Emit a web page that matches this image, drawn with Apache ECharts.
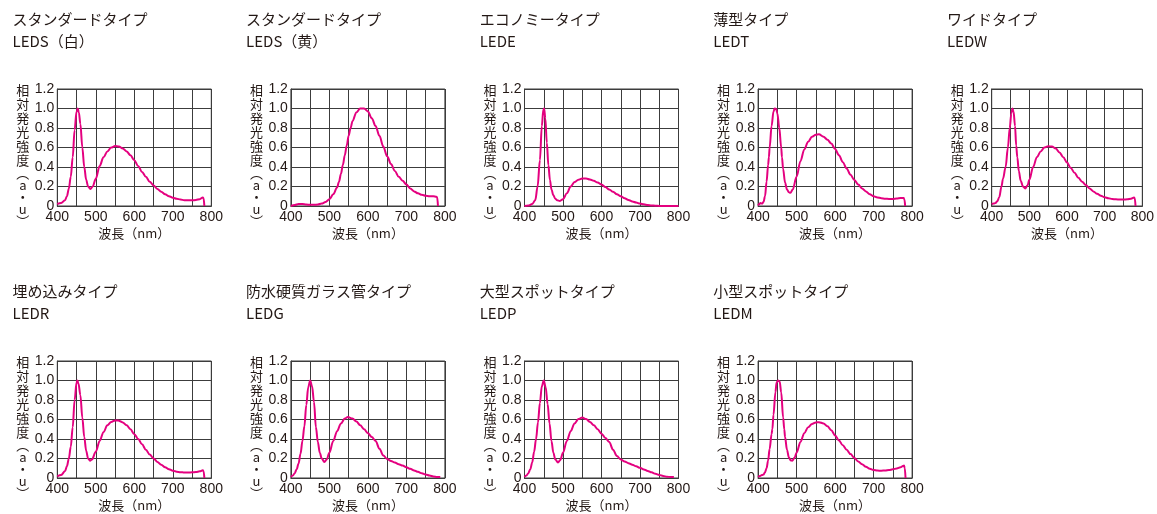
<!DOCTYPE html>
<html>
<head>
<meta charset="utf-8">
<script src="https://cdn.jsdelivr.net/npm/echarts@6/dist/echarts.min.js"></script>
<style>
  html, body { margin: 0; padding: 0; background: #ffffff; }
  #chart { width: 1157px; height: 514px; }
</style>
</head>
<body>
<div id="chart"></div>
<script>
// Relative spectral intensity (a.u.) versus wavelength (nm) for each LED type.
const ledsWhite = [[400,0.02],[410,0.03],[420,0.06],[425,0.1],[430,0.18],[435,0.3],[440,0.5],[445,0.78],[450,0.97],[453,1.0],[456,0.96],[460,0.84],[465,0.6],[470,0.4],[475,0.27],[480,0.2],[486,0.175],[492,0.2],[500,0.28],[510,0.41],[520,0.5],[530,0.56],[540,0.6],[550,0.615],[560,0.61],[570,0.59],[580,0.56],[590,0.52],[600,0.47],[610,0.41],[620,0.35],[630,0.3],[640,0.25],[650,0.21],[660,0.175],[670,0.145],[680,0.12],[690,0.1],[700,0.085],[710,0.075],[720,0.066],[730,0.06],[740,0.058],[750,0.058],[760,0.062],[770,0.07],[778,0.088],[780,0.08],[782,0]];
const ledsYellow = [[400,0],[410,0.01],[420,0.02],[430,0.02],[440,0.015],[450,0.012],[460,0.012],[470,0.015],[480,0.025],[490,0.04],[500,0.07],[510,0.12],[520,0.19],[525,0.25],[530,0.33],[535,0.42],[540,0.52],[545,0.62],[550,0.72],[555,0.8],[560,0.87],[570,0.96],[580,1.0],[590,1.0],[600,0.97],[610,0.9],[620,0.82],[630,0.72],[640,0.61],[650,0.51],[660,0.43],[670,0.36],[680,0.3],[690,0.26],[700,0.22],[710,0.18],[720,0.15],[730,0.13],[740,0.115],[750,0.105],[760,0.1],[770,0.1],[778,0.095],[780,0.09],[782,0]];
const lede = [[400,0],[410,0.005],[420,0.02],[428,0.06],[434,0.2],[440,0.47],[445,0.82],[449,0.99],[451,1.0],[454,0.9],[458,0.65],[462,0.42],[466,0.27],[470,0.17],[475,0.11],[480,0.075],[485,0.058],[492,0.052],[500,0.07],[510,0.13],[520,0.2],[530,0.245],[540,0.27],[550,0.283],[560,0.282],[570,0.272],[580,0.258],[590,0.24],[600,0.22],[610,0.195],[620,0.17],[630,0.145],[640,0.12],[650,0.1],[660,0.08],[670,0.062],[680,0.047],[690,0.035],[700,0.025],[710,0.017],[720,0.01],[730,0.006],[740,0.003],[750,0.001],[760,0],[800,0]];
const ledt = [[400,0.005],[403,0.02],[406,0.03],[410,0.025],[414,0.04],[418,0.1],[422,0.25],[426,0.42],[428,0.5],[430,0.6],[435,0.82],[440,0.97],[443,1.0],[447,0.995],[450,0.95],[455,0.8],[460,0.6],[462,0.5],[465,0.38],[470,0.24],[475,0.17],[480,0.14],[484,0.135],[490,0.17],[500,0.3],[510,0.46],[520,0.58],[530,0.66],[540,0.71],[550,0.73],[558,0.735],[570,0.71],[580,0.68],[590,0.64],[600,0.585],[610,0.52],[620,0.45],[630,0.385],[640,0.32],[650,0.267],[660,0.22],[670,0.18],[680,0.15],[690,0.12],[700,0.1],[710,0.088],[720,0.08],[730,0.075],[740,0.073],[750,0.073],[760,0.077],[770,0.082],[778,0.083],[780,0.07],[782,0]];
const ledw = [[400,0.02],[405,0.025],[410,0.03],[415,0.05],[420,0.09],[426,0.2],[430,0.28],[437,0.4],[443,0.6],[448,0.8],[452,0.95],[455,1.0],[458,0.97],[462,0.82],[465,0.62],[468,0.5],[472,0.36],[477,0.26],[483,0.2],[489,0.18],[495,0.21],[500,0.27],[510,0.4],[520,0.5],[530,0.56],[540,0.6],[550,0.613],[560,0.61],[570,0.59],[580,0.55],[590,0.5],[600,0.445],[610,0.39],[620,0.34],[630,0.29],[640,0.25],[650,0.215],[660,0.18],[670,0.15],[680,0.125],[690,0.105],[700,0.09],[710,0.08],[720,0.072],[730,0.068],[740,0.066],[750,0.066],[760,0.068],[770,0.075],[778,0.088],[780,0.08],[782,0]];
const ledr = [[400,0.017],[410,0.03],[420,0.07],[425,0.12],[430,0.2],[435,0.32],[440,0.52],[445,0.8],[450,0.98],[452,1.0],[455,0.97],[460,0.85],[465,0.62],[470,0.42],[475,0.28],[480,0.2],[485,0.178],[490,0.19],[500,0.27],[510,0.38],[520,0.47],[530,0.54],[540,0.575],[550,0.59],[558,0.59],[570,0.57],[580,0.54],[590,0.5],[600,0.45],[610,0.4],[620,0.345],[630,0.29],[640,0.24],[650,0.2],[660,0.165],[670,0.135],[680,0.11],[690,0.09],[700,0.075],[710,0.065],[720,0.06],[730,0.056],[740,0.056],[750,0.058],[760,0.062],[770,0.068],[778,0.08],[780,0.07],[782,0]];
const ledg = [[400,0.01],[405,0.025],[410,0.05],[415,0.09],[420,0.15],[425,0.25],[430,0.38],[435,0.53],[440,0.75],[445,0.93],[450,1.0],[455,0.94],[460,0.78],[465,0.52],[470,0.37],[475,0.26],[480,0.2],[487,0.163],[493,0.19],[500,0.26],[510,0.38],[520,0.48],[530,0.56],[540,0.61],[548,0.625],[560,0.61],[570,0.58],[580,0.54],[590,0.5],[600,0.46],[610,0.42],[620,0.38],[630,0.3],[640,0.23],[650,0.195],[660,0.175],[670,0.158],[680,0.142],[690,0.127],[700,0.11],[710,0.094],[720,0.078],[730,0.063],[740,0.049],[750,0.036],[760,0.025],[770,0.016],[780,0.011],[788,0.01]];
const ledp = [[400,0.01],[405,0.025],[410,0.05],[415,0.09],[420,0.16],[425,0.27],[430,0.4],[435,0.57],[440,0.77],[445,0.94],[450,1.0],[455,0.93],[460,0.76],[465,0.56],[470,0.38],[475,0.26],[480,0.19],[487,0.158],[493,0.185],[500,0.26],[510,0.38],[520,0.48],[530,0.56],[540,0.605],[550,0.62],[560,0.605],[570,0.575],[580,0.54],[590,0.5],[600,0.455],[610,0.41],[620,0.37],[630,0.29],[640,0.225],[650,0.19],[660,0.17],[670,0.152],[680,0.136],[690,0.12],[700,0.104],[710,0.088],[720,0.073],[730,0.058],[740,0.044],[750,0.032],[760,0.021],[770,0.013],[780,0.01],[788,0.009]];
const ledm = [[400,0.01],[405,0.02],[410,0.03],[414,0.035],[418,0.06],[422,0.1],[426,0.18],[430,0.3],[435,0.45],[437,0.5],[440,0.65],[445,0.88],[448,0.98],[452,1.0],[456,0.99],[460,0.88],[465,0.62],[468,0.5],[470,0.42],[475,0.29],[480,0.21],[485,0.18],[489,0.178],[495,0.21],[500,0.26],[510,0.37],[520,0.46],[530,0.52],[540,0.555],[550,0.57],[558,0.573],[570,0.56],[580,0.53],[590,0.49],[600,0.437],[610,0.385],[620,0.335],[630,0.29],[640,0.245],[650,0.205],[660,0.17],[670,0.14],[680,0.115],[690,0.095],[700,0.082],[710,0.076],[720,0.075],[730,0.077],[740,0.082],[750,0.089],[760,0.098],[770,0.11],[776,0.122],[779,0.127],[781,0.1],[783,0]];

// Panel headings (type name, model code) in reading order
const panelTitles = [
  'スタンダードタイプ\nLEDS（白）',
  'スタンダードタイプ\nLEDS（黄）',
  'エコノミータイプ\nLEDE',
  '薄型タイプ\nLEDT',
  'ワイドタイプ\nLEDW',
  '埋め込みタイプ\nLEDR',
  '防水硬質ガラス管タイプ\nLEDG',
  '大型スポットタイプ\nLEDP',
  '小型スポットタイプ\nLEDM'
];
const panelData = [ledsWhite, ledsYellow, lede, ledt, ledw, ledr, ledg, ledp, ledm];

const xAxisName = '波長（nm）';
// Vertical axis caption: kanji on taller lines, the unit part set tighter
const yNameKanji = ['相','対','発','光','強','度'];
const yNameUnit = ['︵','a','・','u','︶'];
const yAxisName = yNameKanji.map(c => '{k|' + c + '}')
  .concat(yNameUnit.map(c => '{u|' + c + '}')).join('\n');
const xMin = 400, xMax = 800, xStep = 50;
const yMin = 0, yMax = 1.2, yStep = 0.2;

const TEXT = '#231815';
const GRIDLINE = '#3c3c3c';
const CURVE = '#e4007f';
const NUM_FONT = "'Liberation Sans', Arial, sans-serif";
const CJK = "'Noto Sans CJK JP', sans-serif";

const colPitch = 233.6;
const rowTops = [89, 361];
const gridW = 154, gridH = 117;

const titles = [], grids = [], xAxes = [], yAxes = [], series = [], captions = [];
panelData.forEach((data, i) => {
  const row = i < 5 ? 0 : 1;
  const col = i < 5 ? i : i - 5;
  const left = 57.3 + col * colPitch;
  const top = rowTops[row];

  titles.push({
    text: panelTitles[i],
    left: 12.5 + col * colPitch,
    top: top - 81,
    padding: 0,
    textStyle: { fontSize: 15, lineHeight: 22, fontWeight: 'normal', color: TEXT, fontFamily: CJK }
  });
  grids.push({
    left: left, top: top, width: gridW, height: gridH,
    show: true, borderColor: GRIDLINE, borderWidth: 1, backgroundColor: 'transparent'
  });
  xAxes.push({
    gridIndex: i, type: 'value', min: xMin, max: xMax, interval: xStep,
    name: xAxisName, nameLocation: 'middle', nameGap: 21,
    nameTextStyle: { fontSize: 13, color: TEXT, fontFamily: CJK },
    axisLine: { show: true, lineStyle: { color: GRIDLINE, width: 1 } },
    axisTick: { show: false },
    splitLine: { show: true, lineStyle: { color: GRIDLINE, width: 1 } },
    axisLabel: {
      margin: 4, fontSize: 14, color: TEXT, fontFamily: NUM_FONT,
      showMinLabel: true, showMaxLabel: true,
      formatter: v => (v % 100 === 0 ? String(v) : '')
    }
  });
  yAxes.push({
    gridIndex: i, type: 'value', min: yMin, max: yMax, interval: yStep,
    axisLine: { show: true, lineStyle: { color: GRIDLINE, width: 1 } },
    axisTick: { show: false },
    splitLine: { show: true, lineStyle: { color: GRIDLINE, width: 1 } },
    axisLabel: {
      margin: 3, fontSize: 14, color: TEXT, fontFamily: NUM_FONT,
      formatter: v => (Math.abs(v) < 1e-9 ? '0' : v.toFixed(1))
    }
  });
  // stacked vertical caption to the left of the value labels
  captions.push({
    type: 'text',
    left: left - 41,
    top: top - 5,
    silent: true,
    style: {
      text: yAxisName,
      fill: TEXT,
      font: "13px 'Noto Sans CJK JP', sans-serif",
      width: 14,
      align: 'center',
      rich: {
        k: { fontSize: 13, lineHeight: 14, fontFamily: CJK, fill: TEXT, align: 'center' },
        u: { fontSize: 13, lineHeight: 12, fontFamily: CJK, fill: TEXT, align: 'center' }
      }
    }
  });
  series.push({
    type: 'line', xAxisIndex: i, yAxisIndex: i, data: data,
    showSymbol: false, smooth: 0.35, smoothMonotone: 'x',
    lineStyle: { color: CURVE, width: 2 },
    silent: true, animation: false
  });
});

const chart = echarts.init(document.getElementById('chart'), null, { renderer: 'canvas' });
chart.setOption({
  backgroundColor: '#ffffff',
  animation: false,
  title: titles,
  grid: grids,
  xAxis: xAxes,
  yAxis: yAxes,
  graphic: captions,
  series: series
});
</script>
</body>
</html>
